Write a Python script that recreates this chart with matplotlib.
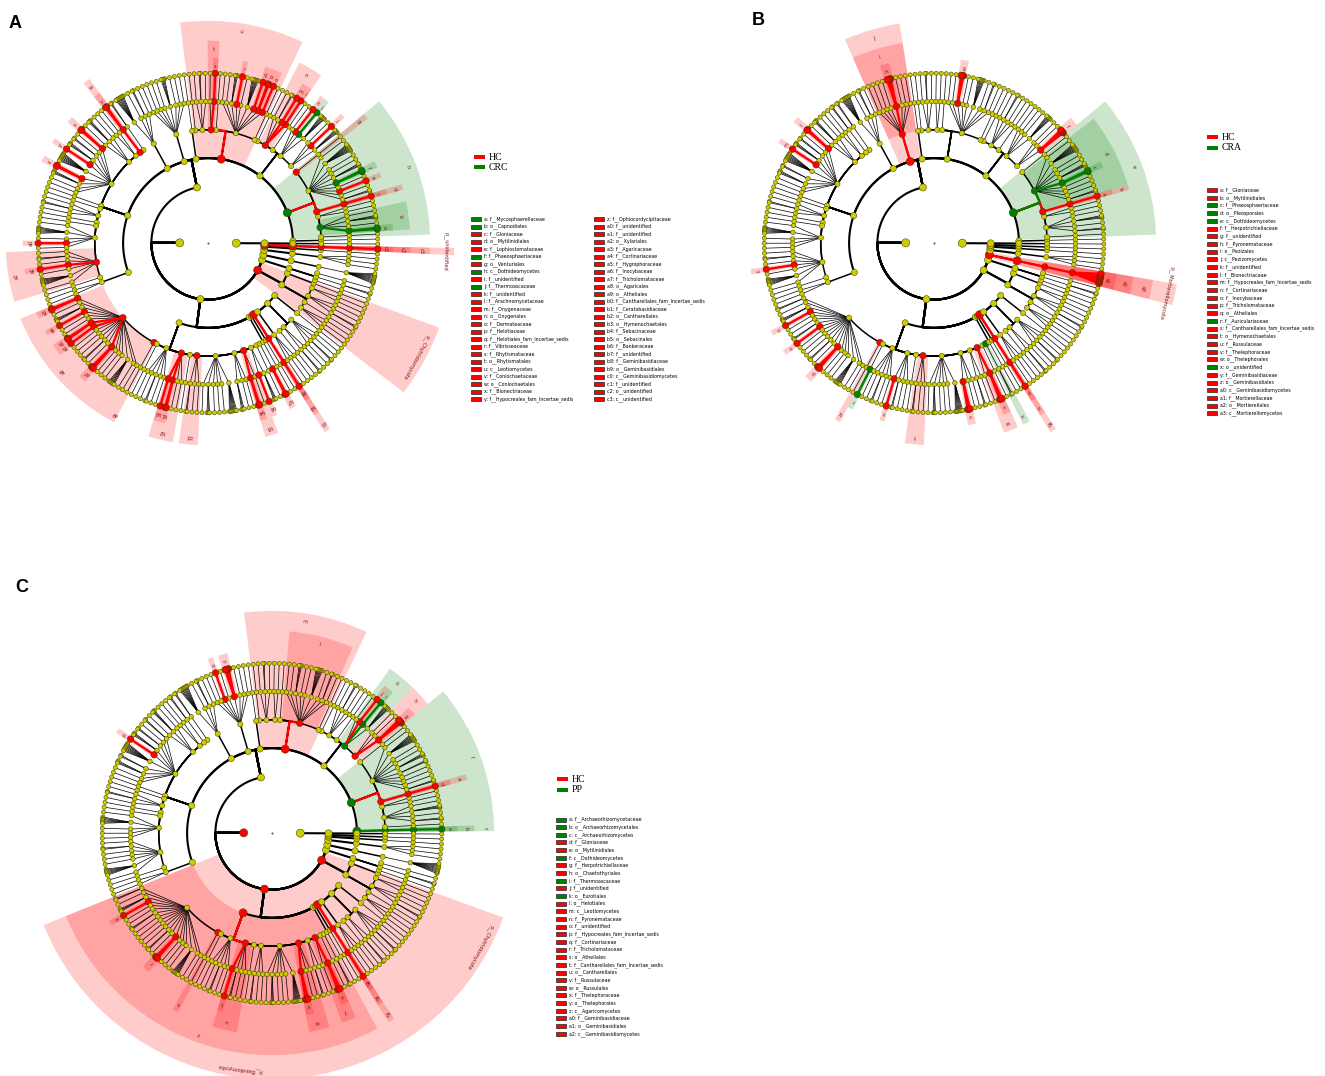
import numpy as np
import matplotlib.pyplot as plt
from matplotlib.patches import Wedge, Rectangle
from matplotlib.collections import LineCollection

W, H = 1325, 1076
STEP = 28.3          # pixels between two rank rings
VIEW = 9.7           # half size of each panel axes, in ring units

# taxonomy backbone: kingdom;phylum;class;order  and genera per family
ORDER_PATHS = [
    "Fungi;Ascomycota;Archaeorhizomycetes;Archaeorhizomycetales",
    "Fungi;Ascomycota;Dothideomycetes;Botryosphaeriales",
    "Fungi;Ascomycota;Dothideomycetes;Capnodiales",
    "Fungi;Ascomycota;Dothideomycetes;Dothideales",
    "Fungi;Ascomycota;Dothideomycetes;Mytilinidiales",
    "Fungi;Ascomycota;Dothideomycetes;Pleosporales",
    "Fungi;Ascomycota;Dothideomycetes;Venturiales",
    "Fungi;Ascomycota;Eurotiomycetes;Chaetothyriales",
    "Fungi;Ascomycota;Eurotiomycetes;Eurotiales",
    "Fungi;Ascomycota;Eurotiomycetes;Mycocaliciales",
    "Fungi;Ascomycota;Eurotiomycetes;Onygenales",
    "Fungi;Ascomycota;Eurotiomycetes;Verrucariales",
    "Fungi;Ascomycota;Leotiomycetes;Erysiphales",
    "Fungi;Ascomycota;Leotiomycetes;Helotiales",
    "Fungi;Ascomycota;Leotiomycetes;Leotiales",
    "Fungi;Ascomycota;Leotiomycetes;Rhytismatales",
    "Fungi;Ascomycota;Leotiomycetes;Thelebolales",
    "Fungi;Ascomycota;Leotiomycetes;unidentified",
    "Fungi;Ascomycota;Orbiliomycetes;Orbiliales",
    "Fungi;Ascomycota;Pezizomycetes;Pezizales",
    "Fungi;Ascomycota;Saccharomycetes;Saccharomycetales",
    "Fungi;Ascomycota;Sordariomycetes;Chaetosphaeriales",
    "Fungi;Ascomycota;Sordariomycetes;Coniochaetales",
    "Fungi;Ascomycota;Sordariomycetes;Diaporthales",
    "Fungi;Ascomycota;Sordariomycetes;Glomerellales",
    "Fungi;Ascomycota;Sordariomycetes;Hypocreales",
    "Fungi;Ascomycota;Sordariomycetes;Magnaporthales",
    "Fungi;Ascomycota;Sordariomycetes;Melanosporales",
    "Fungi;Ascomycota;Sordariomycetes;Microascales",
    "Fungi;Ascomycota;Sordariomycetes;Pleurotheciales",
    "Fungi;Ascomycota;Sordariomycetes;Savoryellales",
    "Fungi;Ascomycota;Sordariomycetes;Sordariales",
    "Fungi;Ascomycota;Sordariomycetes;Xylariales",
    "Fungi;Ascomycota;Sordariomycetes;unidentified",
    "Fungi;Ascomycota;unidentified;unidentified",
    "Fungi;Basidiomycota;Agaricomycetes;Agaricales",
    "Fungi;Basidiomycota;Agaricomycetes;Atheliales",
    "Fungi;Basidiomycota;Agaricomycetes;Auriculariales",
    "Fungi;Basidiomycota;Agaricomycetes;Boletales",
    "Fungi;Basidiomycota;Agaricomycetes;Cantharellales",
    "Fungi;Basidiomycota;Agaricomycetes;Geastrales",
    "Fungi;Basidiomycota;Agaricomycetes;Hymenochaetales",
    "Fungi;Basidiomycota;Agaricomycetes;Polyporales",
    "Fungi;Basidiomycota;Agaricomycetes;Russulales",
    "Fungi;Basidiomycota;Agaricomycetes;Sebacinales",
    "Fungi;Basidiomycota;Agaricomycetes;Thelephorales",
    "Fungi;Basidiomycota;Agaricomycetes;Trechisporales",
    "Fungi;Basidiomycota;Agaricomycetes;unidentified",
    "Fungi;Basidiomycota;Agaricostilbomycetes;Agaricostilbales",
    "Fungi;Basidiomycota;Cystobasidiomycetes;Cystobasidiales",
    "Fungi;Basidiomycota;Geminibasidiomycetes;Geminibasidiales",
    "Fungi;Basidiomycota;Microbotryomycetes;Sporidiobolales",
    "Fungi;Basidiomycota;Tremellomycetes;Cystofilobasidiales",
    "Fungi;Basidiomycota;Tremellomycetes;Filobasidiales",
    "Fungi;Basidiomycota;Tremellomycetes;Tremellales",
    "Fungi;Basidiomycota;Ustilaginomycetes;Ustilaginales",
    "Fungi;Chytridiomycota;Chytridiomycetes;Chytridiales",
    "Fungi;Chytridiomycota;Chytridiomycetes;Lobulomycetales",
    "Fungi;Chytridiomycota;Chytridiomycetes;Rhizophydiales",
    "Fungi;Chytridiomycota;Chytridiomycetes;Spizellomycetales",
    "Fungi;Chytridiomycota;Rhizophlyctidomycetes;Rhizophlyctidales",
    "Fungi;Glomeromycota;Glomeromycetes;Archaeosporales",
    "Fungi;Glomeromycota;Glomeromycetes;Glomerales",
    "Fungi;Glomeromycota;Glomeromycetes;Paraglomerales",
    "Fungi;Mortierellomycota;Mortierellomycetes;Mortierellales",
    "Fungi;Mucoromycota;Mucoromycetes;Mucorales",
    "Fungi;Rozellomycota;Rozellomycotina_cls_Incertae_sedis;GS11",
    "Fungi;unidentified;unidentified;unidentified",
    "unidentified;unidentified;unidentified;unidentified",
]
GENERA_PER_FAMILY = [
    [1], [1], [2, 1, 3, 1], [1, 1], [1], [2, 1, 1, 1, 2, 3, 1, 1, 7, 1], [1],
    [4, 1, 1], [5, 1, 1, 1], [1], [1, 1, 2, 1], [1],
    [1], [1, 2, 1, 6, 1, 1, 3, 1, 1], [1], [1, 1], [1, 2, 1], [1],
    [1], [1, 1, 1, 4, 1, 1, 1, 1], [1, 2, 1, 8],
    [2], [2], [1, 1], [1, 3, 1], [2, 1, 2, 3, 1, 8, 2, 3, 1, 1], [1], [1], [1, 2, 1],
    [1], [1], [1, 6, 1, 1, 1], [1, 2, 1, 1, 1, 6, 1], [1], [1, 1],
    [2, 1, 3, 1, 1, 1, 2, 1, 1, 1, 1, 2, 1, 3, 1, 1, 1, 6, 1, 1], [1], [1],
    [1, 1, 2, 1, 1], [1, 2, 1, 1], [1], [2, 1, 1], [1, 3, 1, 1, 1, 7], [3, 1, 1],
    [2, 1], [1, 3], [1], [2],
    [1], [1], [1], [1, 1, 1], [1], [2, 1], [1, 2, 1, 1], [1],
    [1, 1, 1], [1], [2, 1, 1], [1, 1], [1],
    [1], [2], [1], [9], [1, 1, 1], [1], [1], [1],
]

# biomarkers per comparison: letter, legend name, clade, enriched group
HL_A = [
    ("a", "f__Mycosphaerellaceae", "Capnodiales;0", "g"),
    ("b", "o__Capnodiales", "Capnodiales", "g"),
    ("c", "f__Gloniaceae", "Mytilinidiales;0", "r"),
    ("d", "o__Mytilinidiales", "Mytilinidiales", "r"),
    ("e", "f__Lophiostomataceae", "Pleosporales;2", "r"),
    ("f", "f__Phaeosphaeriaceae", "Pleosporales;4", "g"),
    ("g", "o__Venturiales", "Venturiales", "r"),
    ("h", "c__Dothideomycetes", "Dothideomycetes", "g"),
    ("i", "f__unidentified", "Chaetothyriales;1", "r"),
    ("j", "f__Thermoascaceae", "Eurotiales;1", "g"),
    ("k", "f__unidentified", "Eurotiales;2", "r"),
    ("l", "f__Arachnomycetaceae", "Onygenales;0", "r"),
    ("m", "f__Onygenaceae", "Onygenales;1", "r"),
    ("n", "o__Onygenales", "Onygenales", "r"),
    ("o", "f__Dermateaceae", "Helotiales;0", "r"),
    ("p", "f__Helotiaceae", "Helotiales;1", "r"),
    ("q", "f__Helotiales_fam_Incertae_sedis", "Helotiales;2", "r"),
    ("r", "f__Vibrisseaceae", "Helotiales;5", "r"),
    ("s", "f__Rhytismataceae", "Rhytismatales;0", "r"),
    ("t", "o__Rhytismatales", "Rhytismatales", "r"),
    ("u", "c__Leotiomycetes", "Leotiomycetes", "r"),
    ("v", "f__Coniochaetaceae", "Coniochaetales;0", "r"),
    ("w", "o__Coniochaetales", "Coniochaetales", "r"),
    ("x", "f__Bionectriaceae", "Hypocreales;0", "r"),
    ("y", "f__Hypocreales_fam_Incertae_sedis", "Hypocreales;4", "r"),
    ("z", "f__Ophiocordycipitaceae", "Hypocreales;6", "r"),
    ("a0", "f__unidentified", "Sordariales;3", "r"),
    ("a1", "f__unidentified", "Xylariales;3", "r"),
    ("a2", "o__Xylariales", "Xylariales", "r"),
    ("a3", "f__Agaricaceae", "Agaricales;0", "r"),
    ("a4", "f__Cortinariaceae", "Agaricales;3", "r"),
    ("a5", "f__Hygrophoraceae", "Agaricales;6", "r"),
    ("a6", "f__Inocybaceae", "Agaricales;7", "r"),
    ("a7", "f__Tricholomataceae", "Agaricales;13", "r"),
    ("a8", "o__Agaricales", "Agaricales", "r"),
    ("a9", "o__Atheliales", "Atheliales", "r"),
    ("b0", "f__Cantharellales_fam_Incertae_sedis", "Cantharellales;0", "r"),
    ("b1", "f__Ceratobasidiaceae", "Cantharellales;1", "r"),
    ("b2", "o__Cantharellales", "Cantharellales", "r"),
    ("b3", "o__Hymenochaetales", "Hymenochaetales", "r"),
    ("b4", "f__Sebacinaceae", "Sebacinales;0", "r"),
    ("b5", "o__Sebacinales", "Sebacinales", "r"),
    ("b6", "f__Bankeraceae", "Thelephorales;0", "r"),
    ("b7", "f__unidentified", "Agaricomycetes;unidentified;0", "r"),
    ("b8", "f__Geminibasidiaceae", "Geminibasidiales;0", "r"),
    ("b9", "o__Geminibasidiales", "Geminibasidiales", "r"),
    ("c0", "c__Geminibasidiomycetes", "Geminibasidiomycetes", "r"),
    ("c1", "f__unidentified", "Fungi;unidentified;unidentified;unidentified;0", "r"),
    ("c2", "o__unidentified", "Fungi;unidentified;unidentified;unidentified", "r"),
    ("c3", "c__unidentified", "Fungi;unidentified;unidentified", "r"),
]
PHYLA_A = [("p__unidentified", "Fungi;unidentified", "r"),
           ("p__Chytridiomycota", "Chytridiomycota", "r")]

HL_B = [
    ("a", "f__Gloniaceae", "Mytilinidiales;0", "r"),
    ("b", "o__Mytilinidiales", "Mytilinidiales", "r"),
    ("c", "f__Phaeosphaeriaceae", "Pleosporales;4", "g"),
    ("d", "o__Pleosporales", "Pleosporales", "g"),
    ("e", "c__Dothideomycetes", "Dothideomycetes", "g"),
    ("f", "f__Herpotrichiellaceae", "Chaetothyriales;0", "r"),
    ("g", "f__unidentified", "Helotiales;6", "r"),
    ("h", "f__Pyronemataceae", "Pezizales;3", "r"),
    ("i", "o__Pezizales", "Pezizales", "r"),
    ("j", "c__Pezizomycetes", "Pezizomycetes", "r"),
    ("k", "f__unidentified", "Xylariales;3", "r"),
    ("l", "f__Bionectriaceae", "Hypocreales;0", "r"),
    ("m", "f__Hypocreales_fam_Incertae_sedis", "Hypocreales;4", "r"),
    ("n", "f__Cortinariaceae", "Agaricales;3", "r"),
    ("o", "f__Inocybaceae", "Agaricales;7", "r"),
    ("p", "f__Tricholomataceae", "Agaricales;13", "r"),
    ("q", "o__Atheliales", "Atheliales", "r"),
    ("r", "f__Auriculariaceae", "Auriculariales;0", "g"),
    ("s", "f__Cantharellales_fam_Incertae_sedis", "Cantharellales;0", "r"),
    ("t", "o__Hymenochaetales", "Hymenochaetales", "r"),
    ("u", "f__Russulaceae", "Russulales;0", "r"),
    ("v", "f__Thelephoraceae", "Thelephorales;1", "r"),
    ("w", "o__Thelephorales", "Thelephorales", "r"),
    ("x", "o__unidentified", "Agaricomycetes;unidentified", "g"),
    ("y", "f__Geminibasidiaceae", "Geminibasidiales;0", "r"),
    ("z", "o__Geminibasidiales", "Geminibasidiales", "r"),
    ("a0", "c__Geminibasidiomycetes", "Geminibasidiomycetes", "r"),
    ("a1", "f__Mortierellaceae", "Mortierellales;0", "r"),
    ("a2", "o__Mortierellales", "Mortierellales", "r"),
    ("a3", "c__Mortierellomycetes", "Mortierellomycetes", "r"),
]
PHYLA_B = [("p__Mortierellomycota", "Mortierellomycota", "r")]

HL_C = [
    ("a", "f__Archaeorhizomycetaceae", "Archaeorhizomycetales;0", "g"),
    ("b", "o__Archaeorhizomycetales", "Archaeorhizomycetales", "g"),
    ("c", "c__Archaeorhizomycetes", "Archaeorhizomycetes", "g"),
    ("d", "f__Gloniaceae", "Mytilinidiales;0", "r"),
    ("e", "o__Mytilinidiales", "Mytilinidiales", "r"),
    ("f", "c__Dothideomycetes", "Dothideomycetes", "g"),
    ("g", "f__Herpotrichiellaceae", "Chaetothyriales;0", "r"),
    ("h", "o__Chaetothyriales", "Chaetothyriales", "r"),
    ("i", "f__Thermoascaceae", "Eurotiales;1", "g"),
    ("j", "f__unidentified", "Eurotiales;2", "r"),
    ("k", "o__Eurotiales", "Eurotiales", "g"),
    ("l", "o__Helotiales", "Helotiales", "r"),
    ("m", "c__Leotiomycetes", "Leotiomycetes", "r"),
    ("n", "f__Pyronemataceae", "Pezizales;3", "r"),
    ("o", "f__unidentified", "Pezizales;5", "r"),
    ("p", "f__Hypocreales_fam_Incertae_sedis", "Hypocreales;4", "r"),
    ("q", "f__Cortinariaceae", "Agaricales;3", "r"),
    ("r", "f__Tricholomataceae", "Agaricales;13", "r"),
    ("s", "o__Atheliales", "Atheliales", "r"),
    ("t", "f__Cantharellales_fam_Incertae_sedis", "Cantharellales;0", "r"),
    ("u", "o__Cantharellales", "Cantharellales", "r"),
    ("v", "f__Russulaceae", "Russulales;0", "r"),
    ("w", "o__Russulales", "Russulales", "r"),
    ("x", "f__Thelephoraceae", "Thelephorales;1", "r"),
    ("y", "o__Thelephorales", "Thelephorales", "r"),
    ("z", "c__Agaricomycetes", "Agaricomycetes", "r"),
    ("a0", "f__Geminibasidiaceae", "Geminibasidiales;0", "r"),
    ("a1", "o__Geminibasidiales", "Geminibasidiales", "r"),
    ("a2", "c__Geminibasidiomycetes", "Geminibasidiomycetes", "r"),
]
PHYLA_C = [("p__Basidiomycota", "Basidiomycota", "r"),
           ("p__Chytridiomycota", "Chytridiomycota", "r")]
EXTRA_C = [("Fungi", "r")]

GROUPS_A = ["HC", "CRC"]
GROUPS_B = ["HC", "CRA"]
GROUPS_C = ["HC", "PP"]

COLORS = {"r": "#ff0000", "g": "#008000"}
NODE_Y = "#cccc00"
FAM_W, GEN_W = 1.0, 0.25
THETA0 = 0.5
OUTER = {2: 8.7, 3: 7.85, 4: 7.15, 5: 6.55}


def build_tree():
    root = {"path": (), "children": [], "level": 0}
    index = {(): root}
    for opath, fams in zip(ORDER_PATHS, GENERA_PER_FAMILY):
        parts = tuple(opath.split(";"))
        parent = root
        for k in range(1, len(parts) + 1):
            key = parts[:k]
            if key not in index:
                node = {"path": key, "children": [], "level": k}
                index[key] = node
                parent["children"].append(node)
            parent = index[key]
        for i, n in enumerate(fams):
            fkey = parts + (str(i),)
            fam = {"path": fkey, "children": [], "level": 5}
            index[fkey] = fam
            parent["children"].append(fam)
            for j in range(n):
                fam["children"].append({"path": fkey + ("g%d" % j,), "children": [], "level": 6})
    return root, index


def layout(node, u):
    if node["level"] == 5:
        n = len(node["children"])
        w = FAM_W + GEN_W * (n - 1)
        node["u0"], node["u1"] = u, u + w
        node["u"] = u + w / 2
        for j, g in enumerate(node["children"]):
            g["u"] = node["u"] + GEN_W * (j - (n - 1) / 2)
            g["u0"], g["u1"] = g["u"], g["u"]
        return u + w
    start = u
    for ch in node["children"]:
        u = layout(ch, u)
    node["u0"], node["u1"] = start, u
    node["u"] = (start + u) / 2
    return u


def walk(node):
    yield node
    for ch in node["children"]:
        yield from walk(ch)


ROOT, INDEX = build_tree()
TOTAL = layout(ROOT, 0.0)
NODES = list(walk(ROOT))


def ang(u):
    return THETA0 + 360.0 * u / TOTAL


def xy(theta, r):
    t = np.deg2rad(theta)
    return r * np.cos(t), r * np.sin(t)


def find(ref):
    suf = tuple(ref.split(";"))
    hits = [n for key, n in INDEX.items() if len(key) >= len(suf) and key[-len(suf):] == suf]
    return hits[0]


def edge_points(parent, child):
    k = parent["level"]
    tp, tc = ang(parent["u"]), ang(child["u"])
    if k <= 3:
        n = max(2, int(abs(tc - tp) / 0.8) + 2)
        arc = np.linspace(tp, tc, n)
        pts = [xy(tp, k)] + [xy(t, k + 1) for t in arc]
    else:
        pts = [xy(tp, k), xy(tc, k + 1)]
    return pts


def draw_panel(ax, marks, phyla, extra):
    sig = {}
    labelled = []
    for lab, name, ref, col in marks:
        node = find(ref)
        sig[id(node)] = col
        labelled.append((lab, node, col))
    for lab, ref, col in phyla:
        node = find(ref)
        sig[id(node)] = col
        labelled.append((lab, node, col))
    for node in NODES:
        if node["level"] == 5 and id(node) in sig:
            for g in node["children"]:
                sig[id(g)] = sig[id(node)]
    node_col = dict(sig)
    for ref, col in extra:
        node_col[id(find(ref))] = col

    # shaded clades, outer ones first so nested ones sit on top
    for lab, node, col in sorted(labelled, key=lambda t: t[1]["level"]):
        k = node["level"]
        t1, t2 = ang(node["u0"]), ang(node["u1"])
        if t2 - t1 < 1.2:
            mid = (t1 + t2) / 2
            t1, t2 = mid - 0.6, mid + 0.6
        ro = OUTER[k]
        ax.add_patch(Wedge((0, 0), ro, t1, t2, width=ro - k, facecolor=COLORS[col],
                           alpha=0.2, lw=0, zorder=1))
        tm = ang(node["u"])
        lx, ly = xy(tm, ro - 0.3)
        ax.text(lx, ly, lab, rotation=(tm - 90) % 360, ha="center", va="center",
                fontsize=3.6, color="#7a1010", rotation_mode="anchor", zorder=6)

    # branches: coloured along short links inside a significant lineage
    segs, lws, csegs, ccols = [], [], [], []
    for node in NODES:
        k = node["level"]
        if k == 0:
            continue
        for ch in node["children"]:
            pts = edge_points(node, ch)
            segs.append(pts)
            lws.append(1.5 if k <= 2 else (1.1 if k == 3 else 0.5))
            short = abs(ang(ch["u"]) - ang(node["u"])) < 8
            if id(ch) in sig and id(node) in sig and short:
                csegs.append(pts)
                ccols.append(COLORS[sig[id(ch)]])
    ax.add_collection(LineCollection(segs, colors="black", linewidths=lws, zorder=2,
                                     capstyle="round"))
    ax.add_collection(LineCollection(csegs, colors=ccols, linewidths=1.7, zorder=3))

    # nodes
    base_size = {0: 1.0, 1: 34, 2: 26, 3: 20, 4: 14, 5: 11, 6: 9}
    for level in range(7):
        lv = [n for n in NODES if n["level"] == level]
        pts = np.array([xy(ang(n["u"]), level) for n in lv])
        cols, sizes = [], []
        for n in lv:
            if id(n) in node_col:
                cols.append(COLORS[node_col[id(n)]])
                sizes.append(34 if level <= 3 else 22)
            else:
                cols.append(NODE_Y if level > 0 else "#999900")
                sizes.append(base_size[level])
        ax.scatter(pts[:, 0], pts[:, 1], s=sizes, c=cols,
                   edgecolors="#3a3a00", linewidths=0.35, zorder=4 + (level < 6) * 0.1)


fig = plt.figure(figsize=(W / 100, H / 100), dpi=100)

CENTERS = [(208, 243), (934, 243), (272, 833)]
PANELS = [(HL_A, PHYLA_A, []), (HL_B, PHYLA_B, []), (HL_C, PHYLA_C, EXTRA_C)]
half = VIEW * STEP
for (cx, cy), (marks, phyla, extra) in zip(CENTERS, PANELS):
    ax = fig.add_axes([(cx - half) / W, 1 - (cy + half) / H, 2 * half / W, 2 * half / H])
    ax.set_xlim(-VIEW, VIEW)
    ax.set_ylim(-VIEW, VIEW)
    ax.axis("off")
    draw_panel(ax, marks, phyla, extra)

# legends and panel letters in pixel coordinates
lg = fig.add_axes([0, 0, 1, 1])
lg.set_xlim(0, W)
lg.set_ylim(H, 0)
lg.axis("off")


def group_legend(x, y, names, gap):
    for i, (name, col) in enumerate(zip(names, ["r", "g"])):
        yy = y + i * gap
        lg.add_patch(Rectangle((x, yy - 1.6), 11, 3.2, facecolor=COLORS[col], lw=0))
        lg.text(x + 15, yy, name, fontsize=7, family="Liberation Serif", va="center")


def clade_legend(x, y, marks, gap):
    for i, (lab, name, ref, col) in enumerate(marks):
        yy = y + i * gap
        lg.add_patch(Rectangle((x, yy - 2), 10, 4, facecolor=COLORS[col],
                               edgecolor="#222222", lw=0.5))
        lg.text(x + 13, yy, "%s: %s" % (lab, name), fontsize=3.4, va="center")


group_legend(474, 157, GROUPS_A, 10)
clade_legend(471, 219, HL_A[:25], 7.5)
clade_legend(594, 219, HL_A[25:], 7.5)
group_legend(1207, 137, GROUPS_B, 11)
clade_legend(1207, 190, HL_B, 7.7)
group_legend(557, 779, GROUPS_C, 11)
clade_legend(556, 819.5, HL_C, 7.65)

for letter, (x, y) in zip("ABC", [(9, 28), (752, 25), (15, 592)]):
    lg.text(x, y, letter, fontsize=13, fontweight="bold", family="Liberation Sans")

fig.savefig("out.png", dpi=100)
